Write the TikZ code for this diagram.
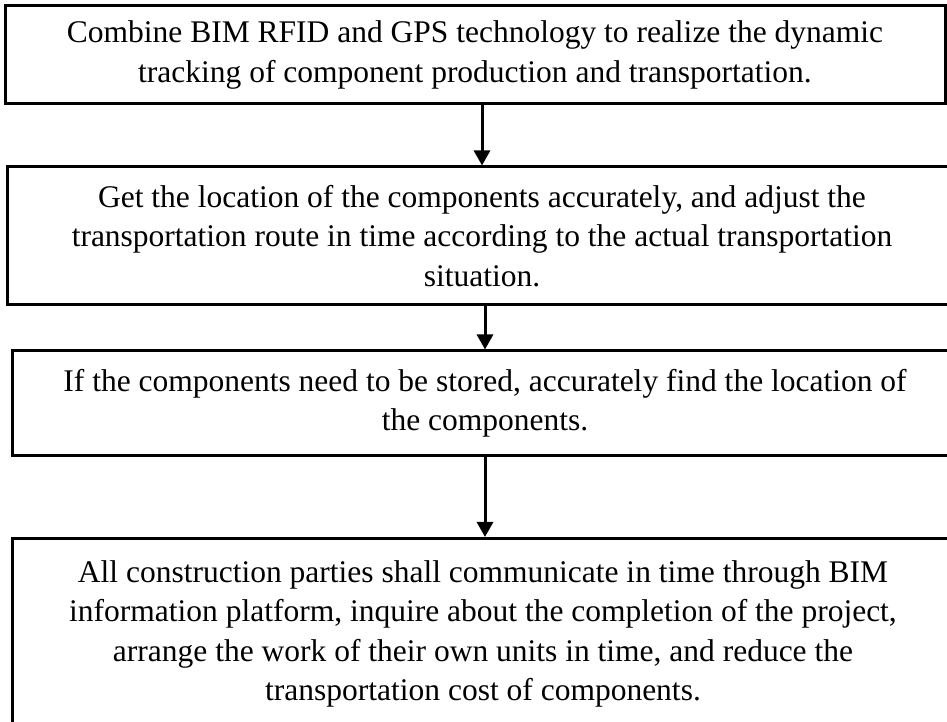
\documentclass[tikz,border=0pt]{standalone}
\usepackage{fontspec}
\setmainfont{Liberation Serif}
\usetikzlibrary{arrows.meta}
\tikzset{
  boxfont/.style={font=\fontsize{31.5}{39.5}\selectfont},
  flowbox/.style={draw=black, line width=3pt, align=center, inner sep=0pt, boxfont},
  arr/.style={line width=3pt, -{Triangle[length=15pt,width=16pt]}}
}
\begin{document}
\begin{tikzpicture}[x=1pt,y=1pt]
\useasboundingbox (0,0) rectangle (947,722);
\fill[white] (0,0) rectangle (947,722);
\clip (0,0) rectangle (947,722);
\node[flowbox, minimum width=940pt, minimum height=98pt] (b1) at (475,667)
  {Combine BIM RFID and GPS technology to realize the dynamic\\tracking of component production and transportation.};
\node[flowbox, minimum width=950pt, minimum height=138pt] (b2) at (482,486)
  {Get the location of the components accurately, and adjust the\\transportation route in time according to the actual transportation\\situation.};
\node[flowbox, minimum width=946pt, minimum height=105pt] (b3) at (485,318.5)
  {If the components need to be stored, accurately find the location of\\the components.};
\node[flowbox, minimum width=946pt, minimum height=203pt, anchor=north] (b4) at (485,185)
  {};
\node[boxfont, align=center, anchor=north, inner sep=0pt] (t4) at (483,162)
  {All construction parties shall communicate in time through BIM\\information platform, inquire about the completion of the project,\\arrange the work of their own units in time, and reduce the\\transportation cost of components.};
\draw[arr] (b1.south -| b2.north) -- (b2.north);
\draw[arr] (b2.south -| b3.north) -- (b3.north);
\draw[arr] (b3.south) -- (b4.north);
\end{tikzpicture}
\end{document}
